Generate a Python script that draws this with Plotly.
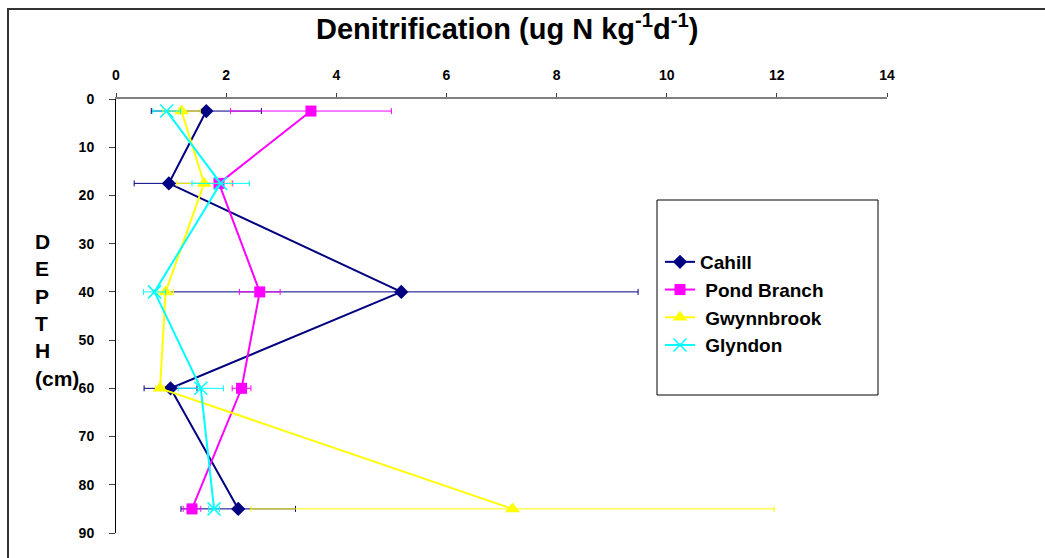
import plotly.graph_objects as go

depths = [2.5, 17.5, 40, 60, 85]

cahill = [1.64, 0.96, 5.18, 0.99, 2.22]
cahill_err = [1.0, 0.63, 4.3, 0.48, 1.04]

pond_branch = [3.54, 1.87, 2.61, 2.28, 1.38]
pond_branch_err = [1.46, 0.25, 0.37, 0.17, 0.16]

gwynnbrook = [1.19, 1.60, 0.90, 0.80, 7.20]
gwynnbrook_err = [0.34, 0.50, 0.14, 0.08, 4.75]

glyndon = [0.92, 1.90, 0.70, 1.54, 1.78]
glyndon_err = [0.25, 0.52, 0.20, 0.41, 0.10]

x_ticks = [0, 2, 4, 6, 8, 10, 12, 14]
y_ticks = [0, 10, 20, 30, 40, 50, 60, 70, 80, 90]

FONT = "Liberation Sans, Arial, sans-serif"

series = [
    ("Cahill", cahill, cahill_err, "#000080", dict(symbol="diamond", size=11, color="#000080")),
    ("\u00a0Pond Branch", pond_branch, pond_branch_err, "#FF00FF", dict(symbol="square", size=11, color="#FF00FF")),
    ("\u00a0Gwynnbrook", gwynnbrook, gwynnbrook_err, "#FFFF00", dict(symbol="triangle-up", size=13, color="#FFFF00")),
    ("\u00a0Glyndon", glyndon, glyndon_err, "#00FFFF", dict(symbol="x-thin", size=13, color="#00FFFF", line=dict(color="#00FFFF", width=1.5))),
]

fig = go.Figure()
for name, vals, errs, color, marker in series:
    fig.add_trace(go.Scatter(
        x=vals, y=depths, name=name, mode="lines+markers",
        line=dict(color=color, width=2),
        marker=marker,
        error_x=dict(type="data", array=errs, visible=True, color=color, thickness=1, width=3),
    ))

W, H = 1045, 558
L, R, T, B = 116, 158, 99, 25
pw, ph = W - L - R, H - T - B

def px(x):
    return (x - L) / pw

def py(y):
    return (H - B - y) / ph

fig.update_layout(
    width=W, height=H,
    margin=dict(l=L, r=R, t=T, b=B),
    paper_bgcolor="white", plot_bgcolor="white",
    font=dict(family=FONT, color="black"),
    showlegend=True,
    legend=dict(
        x=px(660), y=py(243), xanchor="left", yanchor="top",
        bgcolor="rgba(0,0,0,0)", borderwidth=0,
        font=dict(family=FONT, size=19, color="black", weight="bold"),
        itemwidth=30,
    ),
    xaxis=dict(
        range=[0, 14], side="top", tickvals=x_ticks, ticktext=[str(v) for v in x_ticks],
        showgrid=False, zeroline=False, showline=True, linecolor="#808080", linewidth=2,
        ticks="outside", ticklen=4, tickcolor="#404040", ticklabelstandoff=7,
        tickfont=dict(family=FONT, size=14, weight="bold", color="black"),
    ),
    yaxis=dict(
        range=[90, 0], tickvals=y_ticks, ticktext=[str(v) for v in y_ticks],
        showgrid=False, zeroline=False, showline=True, linecolor="black", linewidth=1,
        ticks="outside", ticklen=6, tickcolor="#404040", ticklabelstandoff=12,
        tickfont=dict(family=FONT, size=14, weight="bold", color="black"),
    ),
    annotations=[
        dict(text="Denitrification (ug N kg<sup>-1</sup>d<sup>-1</sup>)",
             xref="paper", yref="paper", x=px(507), y=py(27), xanchor="center", yanchor="middle",
             showarrow=False, font=dict(family=FONT, size=29, weight="bold", color="black")),
        dict(text="D<br>E<br>P<br>T<br>H<br>(cm)", align="left",
             xref="paper", yref="paper", x=px(33), y=py(310), xanchor="left", yanchor="middle",
             showarrow=False, font=dict(family=FONT, size=21, weight="bold", color="black")),
    ],
    shapes=[
        dict(type="rect", xref="paper", yref="paper", x0=px(657), x1=px(878), y0=py(395), y1=py(200),
             line=dict(color="black", width=1)),
        dict(type="rect", xref="paper", yref="paper", x0=px(8), x1=px(1060), y0=py(570), y1=py(9),
             line=dict(color="#333333", width=2), layer="below"),
    ],
)

fig.write_html("out.html", config={"displayModeBar": False},
               post_script="document.body.style.margin='0';")
